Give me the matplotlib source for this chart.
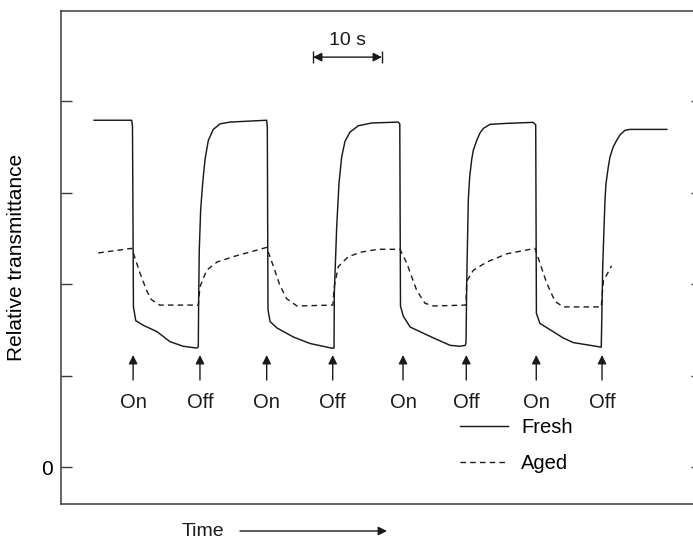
import matplotlib
matplotlib.use("Agg")
import matplotlib.pyplot as plt

plt.rcParams['font.family'] = ['Liberation Sans', 'DejaVu Sans']

# -----------------------------
# Data (time in s, transmittance in tick units)
# -----------------------------
fresh_t = [4.8, 10.25, 10.36, 10.5, 10.83, 11.9, 13.9, 15.8, 17.7, 19.7, 19.9,
           19.95, 20.04, 20.24, 20.53, 20.87, 21.35, 22.07, 23.04, 24.49, 29.8,
           29.9, 30.0, 30.3, 31.3, 33.7, 36.1, 39.2, 39.57,
           39.61, 39.96, 40.29, 40.68, 41.16, 41.88, 43.09, 45.03, 48.88,
           49.1, 49.2, 49.6, 50.6, 54.0, 56.4, 57.8, 58.6, 58.7,
           58.8, 59.03, 59.23, 59.52, 59.75, 60.25, 60.72, 61.2, 62.17, 64.59, 68.45,
           68.8, 68.9, 69.4, 70.9, 72.8, 74.25, 76.7, 78.3,
           78.51, 78.84, 78.99, 79.32, 79.57, 80.04, 80.53, 81.01, 81.74, 82.46, 87.8]
fresh_y = [3.79, 3.79, 3.72, 1.75, 1.60, 1.55, 1.48, 1.37, 1.32, 1.30, 1.315,
           1.83, 2.37, 2.81, 3.10, 3.36, 3.57, 3.69, 3.75, 3.77, 3.79,
           3.72, 1.72, 1.59, 1.52, 1.42, 1.35, 1.30, 1.30,
           1.90, 2.63, 3.10, 3.39, 3.56, 3.66, 3.73, 3.76, 3.77,
           3.75, 1.76, 1.65, 1.53, 1.41, 1.33, 1.32, 1.33, 1.36,
           2.01, 2.92, 3.17, 3.36, 3.46, 3.57, 3.65, 3.70, 3.745, 3.756, 3.767,
           3.74, 1.68, 1.57, 1.50, 1.41, 1.36, 1.33, 1.31,
           2.19, 2.92, 3.10, 3.28, 3.39, 3.50, 3.57, 3.63, 3.68, 3.69, 3.69]

aged_t = [5.4, 10.25, 11.45, 12.4, 13.1, 14.3, 19.7,
          19.9, 20.14, 21.1, 22.6, 25.0, 27.4, 29.8,
          30.8, 31.7, 32.7, 34.2, 39.4,
          39.6, 40.19, 41.64, 43.58, 46.0, 49.13,
          50.1, 51.55, 52.75, 54.0, 58.7,
          58.8, 59.75, 61.7, 64.6, 68.7,
          69.4, 70.4, 71.6, 72.8, 78.3,
          78.6, 79.8]
aged_y = [2.34, 2.39, 2.12, 1.93, 1.83, 1.77, 1.77,
          1.77, 1.97, 2.15, 2.24, 2.30, 2.35, 2.40,
          2.19, 1.99, 1.84, 1.76, 1.77,
          1.97, 2.19, 2.30, 2.35, 2.38, 2.38,
          2.23, 1.93, 1.79, 1.76, 1.77,
          2.03, 2.15, 2.24, 2.33, 2.39,
          2.23, 2.01, 1.81, 1.75, 1.75,
          2.03, 2.20]

event_t = [10.45, 20.14, 29.81, 39.38, 49.57, 58.74, 68.88, 78.41]
event_labels = ["On", "Off", "On", "Off", "On", "Off", "On", "Off"]

y_ticks = [0, 1, 2, 3, 4]
y_ticklabels = ["0", "", "", "", ""]

scale_start = 36.52   # 10 s scale bar
scale_len = 10

ink = "#1a1a1a"
spine_col = "#3a3a3a"

# -----------------------------
# Figure / axes
# -----------------------------
fig = plt.figure(figsize=(6.93, 5.39), dpi=100)
ax = fig.add_axes([61 / 693, 35 / 539, 641 / 693, 493 / 539])
ax.set_xlim(0, 92.9)
ax.set_ylim(-0.404, 4.984)

for s in ax.spines.values():
    s.set_color(spine_col)
    s.set_linewidth(1.1)
ax.spines['right'].set_visible(False)

ax.set_xticks([])
ax.set_yticks(y_ticks)
ax.set_yticklabels(y_ticklabels)
ax.tick_params(axis='y', direction='in', length=8, width=1.0, color=spine_col,
               labelsize=15, pad=6, right=True)
ax.set_ylabel("Relative transmittance", fontsize=15, labelpad=11)

# curves
ax.plot(fresh_t, fresh_y, color=ink, lw=1.05, label="Fresh")
ax.plot(aged_t, aged_y, color=ink, lw=1.0, dashes=(4, 3), label="Aged")

# On / Off arrows
for t, lab in zip(event_t, event_labels):
    ax.annotate("", xy=(t, 1.224), xytext=(t, 0.951),
                arrowprops=dict(arrowstyle='-|>', color=ink, lw=1.0,
                                mutation_scale=13, shrinkA=0, shrinkB=0))
    ax.text(t, 0.645, lab, ha='center', va='baseline', fontsize=14.5, color=ink)

# 10 s scale bar
ax.annotate("", xy=(scale_start, 4.48), xytext=(scale_start + scale_len, 4.48),
            arrowprops=dict(arrowstyle='<|-|>', color=ink, lw=1.0,
                            mutation_scale=13, shrinkA=0, shrinkB=0))
ax.vlines([scale_start, scale_start + scale_len], 4.415, 4.546, color=ink, lw=1.0)
ax.text(scale_start + scale_len / 2, 4.612, "10 s", ha='center', va='baseline',
        fontsize=14, color=ink)

# legend
ax.legend(loc='upper left', bbox_to_anchor=(0.6225, 0.1745), frameon=False,
          fontsize=14.5, handlelength=2.4, handletextpad=0.65, labelspacing=0.85,
          borderpad=0, borderaxespad=0)

# Time axis label with arrow
fig.text(181.7 / 693, 3.5 / 539, "Time", ha='left', va='baseline', fontsize=14, color=ink)
ax.annotate("", xy=(387 / 693, 8 / 539), xytext=(240 / 693, 8 / 539),
            xycoords='figure fraction', textcoords='figure fraction',
            arrowprops=dict(arrowstyle='-|>', color=ink, lw=1.0,
                            mutation_scale=13, shrinkA=0, shrinkB=0))

fig.savefig("out.png", dpi=100)
